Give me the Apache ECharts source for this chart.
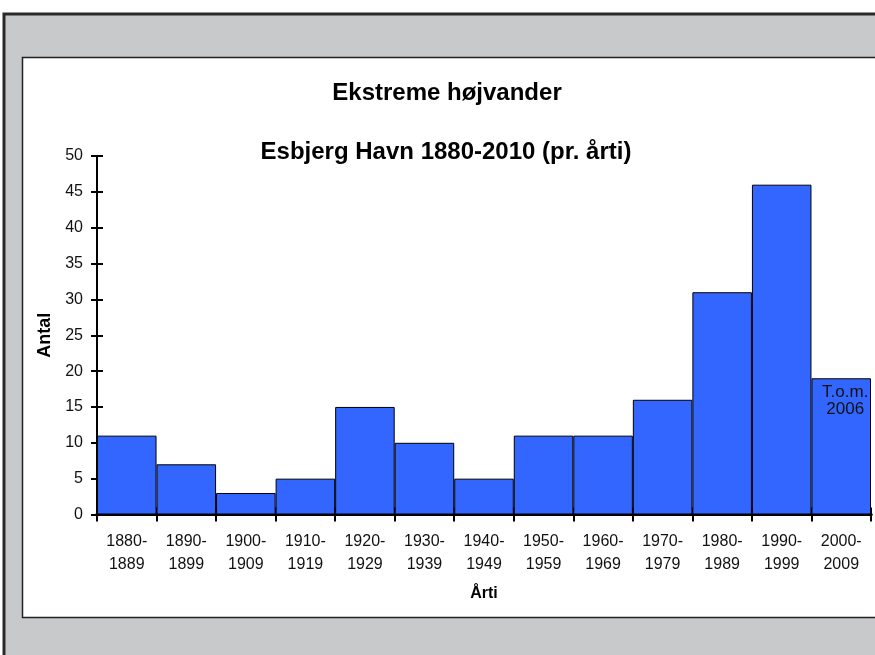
<!DOCTYPE html>
<html>
<head>
<meta charset="utf-8">
<script src="https://cdn.jsdelivr.net/npm/echarts@6/dist/echarts.min.js"></script>
<style>
  html, body { margin: 0; padding: 0; background: #fff; }
  #chart { width: 875px; height: 655px; }
</style>
</head>
<body>
<div id="chart"></div>
<script>
// Decades (first and last year) and number of extreme high-water events per decade
const decadeFrom = ['1880', '1890', '1900', '1910', '1920', '1930', '1940', '1950', '1960', '1970', '1980', '1990', '2000'];
const decadeTo   = ['1889', '1899', '1909', '1919', '1929', '1939', '1949', '1959', '1969', '1979', '1989', '1999', '2009'];
const counts     = [11, 7, 3, 5, 15, 10, 5, 11, 11, 16, 31, 46, 19];
const yTicks     = { min: 0, max: 50, step: 5 };
const lastNote   = 'T.o.m.\n2006';

const categories = decadeFrom.map((f, i) => f + '-\n' + decadeTo[i]);
const FONT = "'Liberation Sans', Arial, sans-serif";

const barData = counts.map((v, i) => {
  if (i === counts.length - 1) {
    return {
      value: v,
      label: {
        show: true, position: 'insideTop', distance: 6, offset: [4, 0],
        formatter: lastNote, fontSize: 17, lineHeight: 17,
        color: '#111', fontFamily: FONT
      }
    };
  }
  return v;
});

const chart = echarts.init(document.getElementById('chart'), null, { renderer: 'canvas' });

const baseY = {
  type: 'value', position: 'left', min: yTicks.min, max: yTicks.max, interval: yTicks.step,
  splitLine: { show: false },
  axisLine: { show: true, lineStyle: { color: '#000', width: 2 } }
};
const baseX = {
  type: 'category', position: 'bottom', data: categories, boundaryGap: true,
  axisLine: { show: true, lineStyle: { color: '#000', width: 3 } }
};

chart.setOption({
  backgroundColor: '#fff',
  animation: false,
  graphic: [
    // grey frame with dark outline
    { type: 'rect', z: -10, silent: true,
      shape: { x: 4, y: 14, width: 880, height: 660 },
      style: { fill: '#c8c9cb', stroke: '#2a2a2a', lineWidth: 3 } },
    // white chart panel
    { type: 'rect', z: -9, silent: true,
      shape: { x: 22.5, y: 57.5, width: 870, height: 560 },
      style: { fill: '#ffffff', stroke: '#222', lineWidth: 1.5 } }
  ],
  title: [
    { text: 'Ekstreme højvander', left: 442, top: 76, textAlign: 'center',
      textStyle: { fontFamily: FONT, fontSize: 24, fontWeight: 'bold', color: '#000' } },
    { text: 'Esbjerg Havn 1880-2010 (pr. årti)', left: 441, top: 135, textAlign: 'center',
      textStyle: { fontFamily: FONT, fontSize: 24, fontWeight: 'bold', color: '#000' } }
  ],
  grid: { left: 97, right: 4, top: 156, bottom: 140.5, containLabel: false },
  xAxis: [
    Object.assign({}, baseX, {
      name: 'Årti', nameLocation: 'middle', nameGap: 71,
      nameTextStyle: { fontFamily: FONT, fontSize: 16, fontWeight: 'bold', color: '#000' },
      axisTick: { show: true, inside: false, length: 7, lineStyle: { color: '#000', width: 2 } },
      axisLabel: { fontFamily: FONT, fontSize: 16, color: '#111', lineHeight: 23, margin: 16, interval: 0 }
    }),
    Object.assign({}, baseX, {
      axisTick: { show: true, inside: true, length: 7, lineStyle: { color: '#000', width: 2 } },
      axisLabel: { show: false }
    })
  ],
  yAxis: [
    Object.assign({}, baseY, {
      name: 'Antal', nameLocation: 'middle', nameGap: 43, nameRotate: 90,
      nameTextStyle: { fontFamily: FONT, fontSize: 18, fontWeight: 'bold', color: '#000' },
      axisTick: { show: true, inside: false, length: 6, lineStyle: { color: '#000', width: 2 } },
      axisLabel: { fontFamily: FONT, fontSize: 16, color: '#111', margin: 14 }
    }),
    Object.assign({}, baseY, {
      axisTick: { show: true, inside: true, length: 6, lineStyle: { color: '#000', width: 2 } },
      axisLabel: { show: false }
    })
  ],
  series: [{
    type: 'bar', xAxisIndex: 0, yAxisIndex: 0,
    data: barData,
    barCategoryGap: '0%',
    itemStyle: { color: '#3366ff', borderColor: '#000', borderWidth: 1 }
  }]
});
</script>
</body>
</html>
